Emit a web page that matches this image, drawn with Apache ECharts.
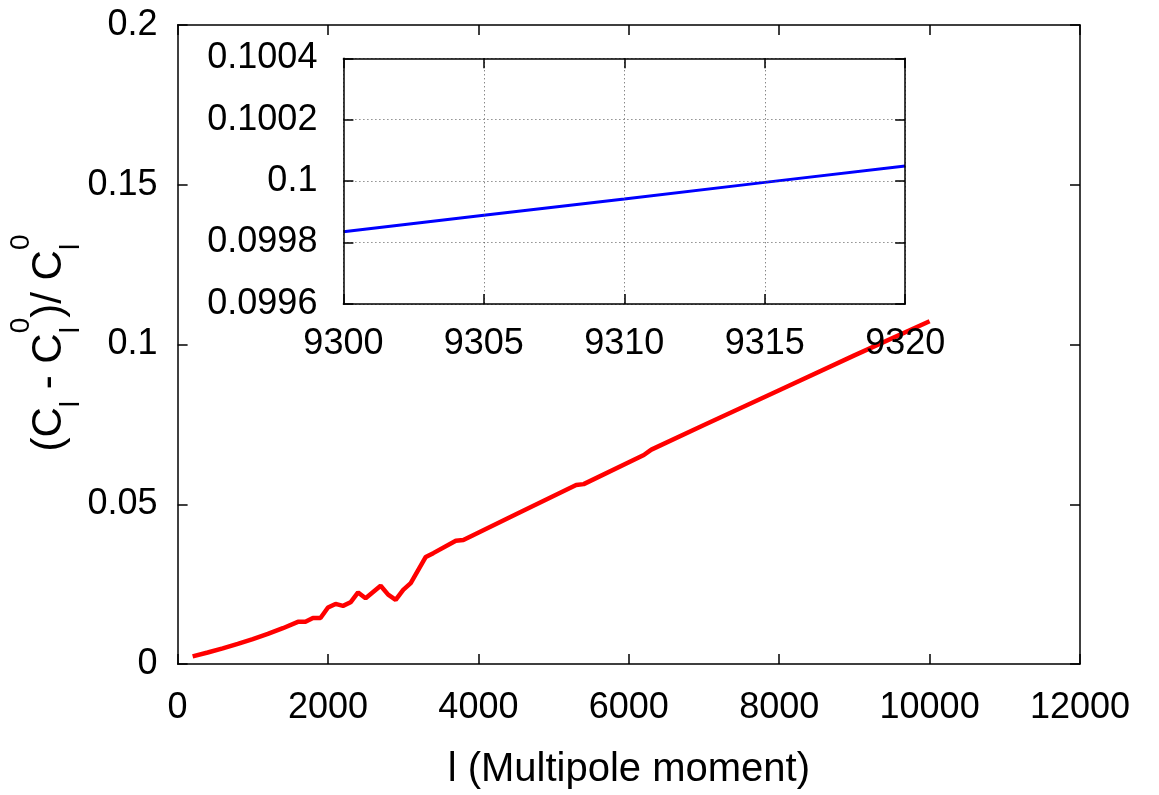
<!DOCTYPE html>
<html>
<head>
<meta charset="utf-8">
<title>Relative change of C_l</title>
<script src="https://cdn.jsdelivr.net/npm/echarts@6/dist/echarts.min.js"></script>
<style>
  html, body { margin: 0; padding: 0; background: #fff; }
  #chart { width: 1159px; height: 795px; }
</style>
</head>
<body>
<div id="chart"></div>
<script>
// Full multipole range
const multipoles = [200, 400, 600, 800, 1000, 1200, 1400, 1600, 1700, 1800, 1900, 2000,
  2100, 2200, 2300, 2400, 2500, 2700, 2800, 2900, 3000, 3100, 3300, 3400, 3700, 3800,
  4500, 5300, 5400, 6200, 6300, 7000, 8000, 9000, 10000];
const ratios = [0.0024, 0.0036, 0.0049, 0.0063, 0.0078, 0.0094, 0.0112, 0.0132, 0.0132, 0.0144,
  0.0144, 0.0177, 0.0188, 0.0182, 0.0193, 0.0224, 0.0206, 0.0245, 0.0217, 0.0201, 0.0232,
  0.0253, 0.0335, 0.0347, 0.0386, 0.0388, 0.0469, 0.0560, 0.0563, 0.0654, 0.0671, 0.0748,
  0.0857, 0.0966, 0.1073];

// Zoomed window
const zoomMultipoles = [9300, 9305, 9310, 9315, 9320];
const zoomRatios = [0.099835, 0.099889, 0.099942, 0.099996, 0.100049];

// Axis ranges / tick steps
const mainX = { min: 0, max: 12000, step: 2000 };
const mainY = { min: 0, max: 0.2, step: 0.05 };
const zoomX = { min: 9300, max: 9320, step: 5 };
const zoomY = { min: 0.0996, max: 0.1004, step: 0.0002 };

const FAMILY = '"Liberation Sans", Arial, Helvetica, sans-serif';
const FS = 36;          // tick labels
const TITLE_FS = 40;    // x title
const YTITLE_FS = 42;   // y title
const SUB_FS = 28;      // sub/superscripts in the y title
const INK = '#000';

const zip = (xs, ys) => xs.map((x, i) => [x, ys[i]]);
const fmt = (d) => (v) => String(Number(v.toFixed(d)));

const frameLine = { show: true, onZero: false, lineStyle: { color: INK, width: 1.5 } };
const inTick = { show: true, inside: true, length: 10, lineStyle: { color: INK, width: 1.5 } };
const noLabel = { show: false };
const labelStyle = { color: INK, fontSize: FS, fontFamily: FAMILY };

function mirrorAxis(grid, range, pos, z) {
  return {
    type: 'value', gridIndex: grid, position: pos,
    min: range.min, max: range.max, interval: range.step,
    axisLine: frameLine, axisTick: inTick, axisLabel: noLabel,
    splitLine: { show: false }, z: z
  };
}

const dotted = { show: true, lineStyle: { color: '#555', width: 1, type: [1, 3] } };

// y-axis title with stacked sub/superscripts, laid out along a rotated baseline
const measureCtx = document.createElement('canvas').getContext('2d');
function textWidth(t, size) {
  measureCtx.font = size + 'px ' + FAMILY;
  return measureCtx.measureText(t).width;
}
const titleParts = [
  { text: '(C' }, { sub: 'l' },
  { text: ' - C' }, { sub: 'l', sup: '0' },
  { text: ')/ C' }, { sub: 'l', sup: '0' }
];
function buildTitle() {
  const items = [];
  let cursor = 0;
  const SUB_DY = 22, SUP_DY = -28;
  titleParts.forEach(p => {
    if (p.text) {
      items.push({ t: p.text, x: cursor, y: 0, size: YTITLE_FS });
      cursor += textWidth(p.text, YTITLE_FS);
    } else {
      let w = textWidth(p.sub, SUB_FS);
      items.push({ t: p.sub, x: cursor, y: SUB_DY, size: SUB_FS });
      if (p.sup) {
        items.push({ t: p.sup, x: cursor, y: SUP_DY, size: SUB_FS });
        w = Math.max(w, textWidth(p.sup, SUB_FS));
      }
      cursor += w;
    }
  });
  const shift = -cursor / 2;
  return items.map(it => ({
    type: 'text', x: it.x + shift, y: it.y,
    style: { text: it.t, fill: INK, fontSize: it.size, fontFamily: FAMILY, align: 'left', verticalAlign: 'middle' }
  }));
}

const chart = echarts.init(document.getElementById('chart'), null, { renderer: 'canvas' });

chart.setOption({
  backgroundColor: '#fff',
  animation: false,
  grid: [
    { left: 177.6, top: 25, width: 902.4, height: 640, show: false },
    { left: 343.4, top: 58.3, width: 561.8, height: 245.7, show: true, backgroundColor: '#fff', borderWidth: 0, z: 4 }
  ],
  xAxis: [
    {
      type: 'value', gridIndex: 0, position: 'bottom',
      min: mainX.min, max: mainX.max, interval: mainX.step,
      axisLine: frameLine, axisTick: inTick,
      axisLabel: Object.assign({ margin: 26, formatter: (v) => String(v) }, labelStyle),
      splitLine: { show: false },
      name: 'l (Multipole moment)', nameLocation: 'middle', nameGap: 86,
      nameTextStyle: { color: INK, fontSize: TITLE_FS, fontFamily: FAMILY }
    },
    mirrorAxis(0, mainX, 'top', 0),
    {
      type: 'value', gridIndex: 1, position: 'bottom',
      min: zoomX.min, max: zoomX.max, interval: zoomX.step,
      axisLine: frameLine, axisTick: inTick,
      axisLabel: Object.assign({ margin: 22, formatter: (v) => String(v) }, labelStyle),
      splitLine: dotted, z: 10
    },
    mirrorAxis(1, zoomX, 'top', 10)
  ],
  yAxis: [
    {
      type: 'value', gridIndex: 0, position: 'left',
      min: mainY.min, max: mainY.max, interval: mainY.step,
      axisLine: frameLine, axisTick: inTick,
      axisLabel: Object.assign({ margin: 20, formatter: fmt(2) }, labelStyle),
      splitLine: { show: false }
    },
    mirrorAxis(0, mainY, 'right', 0),
    {
      type: 'value', gridIndex: 1, position: 'left',
      min: zoomY.min, max: zoomY.max, interval: zoomY.step,
      axisLine: frameLine, axisTick: inTick,
      axisLabel: Object.assign({ margin: 26, formatter: fmt(4) }, labelStyle),
      splitLine: dotted, z: 10
    },
    mirrorAxis(1, zoomY, 'right', 10)
  ],
  series: [
    {
      type: 'line', xAxisIndex: 0, yAxisIndex: 0,
      data: zip(multipoles, ratios),
      showSymbol: false, symbol: 'none',
      lineStyle: { color: '#ff0000', width: 4.5 }, z: 2
    },
    {
      type: 'line', xAxisIndex: 2, yAxisIndex: 2,
      data: zip(zoomMultipoles, zoomRatios),
      showSymbol: false, symbol: 'none',
      lineStyle: { color: '#0000ff', width: 3 }, z: 8
    }
  ],
  graphic: [
    { type: 'group', x: 49, y: 343, rotation: Math.PI / 2, children: buildTitle() }
  ]
});
</script>
</body>
</html>
